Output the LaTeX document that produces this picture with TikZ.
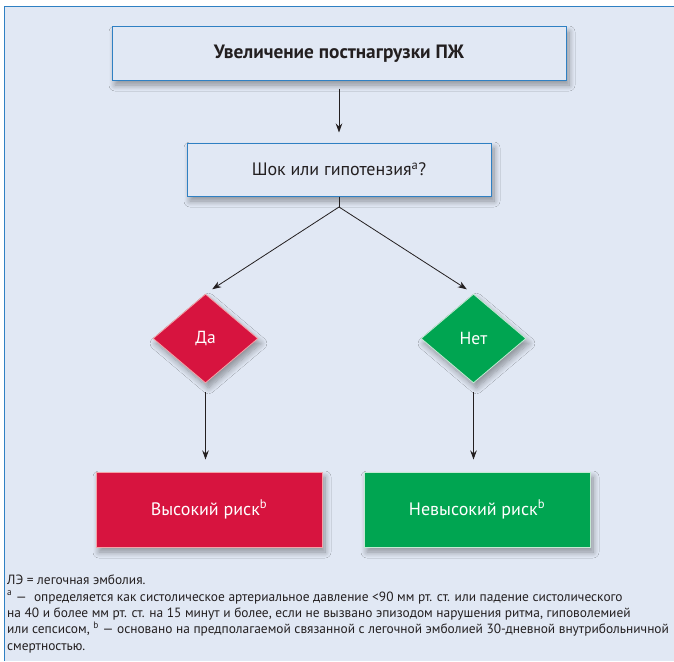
\documentclass[tikz,border=0pt]{standalone}
\usepackage{fontspec}
\setmainfont{PT Sans}
\usetikzlibrary{shapes.geometric,arrows.meta,shadows.blur}
\definecolor{panel}{HTML}{E1E8F4}
\definecolor{frameblue}{HTML}{2F80C3}
\definecolor{ink}{HTML}{231F20}
\definecolor{riskred}{HTML}{D7143F}
\definecolor{riskgreen}{HTML}{00A551}
\definecolor{redrim}{HTML}{F4A3A8}
\definecolor{greenrim}{HTML}{C4EAD3}
\tikzset{
  softshadow/.style={blur shadow={shadow xshift=3pt, shadow yshift=-5pt,
      shadow blur steps=10, shadow blur radius=6pt, shadow opacity=38}},
  qbox/.style={draw=frameblue, line width=1pt, fill=panel, text=ink,
      minimum height=53pt, inner sep=0pt, softshadow},
  choice/.style={diamond, minimum width=105pt, minimum height=89pt, inner sep=0pt,
      text=white, font=\fontsize{17.5}{20}\selectfont, line width=0.8pt, softshadow},
  outcome/.style={minimum width=226pt, minimum height=75pt, inner sep=0pt,
      text=white, font=\fontsize{18}{21}\selectfont, line width=1pt, softshadow},
  flow/.style={draw=ink, line width=0.8pt, -{Stealth[length=9pt,width=6.5pt]}}
}
\begin{document}
\begin{tikzpicture}[x=1pt, y=-1pt]
  \useasboundingbox (0,0) rectangle (674,661);
  % panel with blue frame on the top and left
  \fill[white] (0,0) rectangle (674,661);
  \fill[panel] (4.5,7) rectangle (674,661);
  \draw[frameblue, line width=1pt] (4.5,661) -- (4.5,7) -- (674,7);

  % question boxes
  \node[qbox, minimum width=454pt, font=\bfseries\fontsize{19.3}{22}\selectfont]
    (load) at (339,53.5) {Увеличение постнагрузки ПЖ};
  \node[qbox, minimum width=304pt, font=\fontsize{18}{21}\selectfont]
    (shock) at (339,169.5) {Шок или гипотензия\textsuperscript{a}?};

  % decisions
  \node[choice, fill=riskred, draw=redrim] (yes) at (205.5,338.5) {Да};
  \node[choice, fill=riskgreen, draw=greenrim] (no) at (473.5,338.5) {Нет};

  % outcomes
  \node[outcome, fill=riskred, draw=redrim] (high) at (209,509.5)
    {Высокий риск\textsuperscript{b}};
  \node[outcome, fill=riskgreen, draw=greenrim] (low) at (477,509.5)
    {Невысокий риск\textsuperscript{b}};

  % connectors
  \coordinate (split) at (339,207);
  \draw[flow, shorten <=8pt, shorten >=10pt] (load) -- (shock);
  \draw[draw=ink, line width=0.8pt] (shock.south) -- (split);
  \draw[flow, shorten >=8pt] (split) -- (yes.north);
  \draw[flow, shorten >=8pt] (split) -- (no.north);
  \draw[flow, shorten <=9pt, shorten >=12pt] (yes.south) -- (yes.south |- high.north);
  \draw[flow, shorten <=9pt, shorten >=12pt] (no.south) -- (no.south |- low.north);

  % notes
  \node[anchor=north west, align=left, inner sep=0pt, text=ink,
        font=\fontsize{13.4}{16.3}\selectfont] (notes) at (7,575)
    {ЛЭ = легочная эмболия.\\
     \textsuperscript{a} —\ \ определяется как систолическое артериальное давление <90 мм рт. ст. или падение систолического\\
     на 40 и более мм рт. ст. на 15 минут и более, если не вызвано эпизодом нарушения ритма, гиповолемией\\
     или сепсисом, \textsuperscript{b} — основано на предполагаемой связанной с легочной эмболией 30-дневной внутрибольничной\\
     смертностью.};
\end{tikzpicture}
\end{document}
